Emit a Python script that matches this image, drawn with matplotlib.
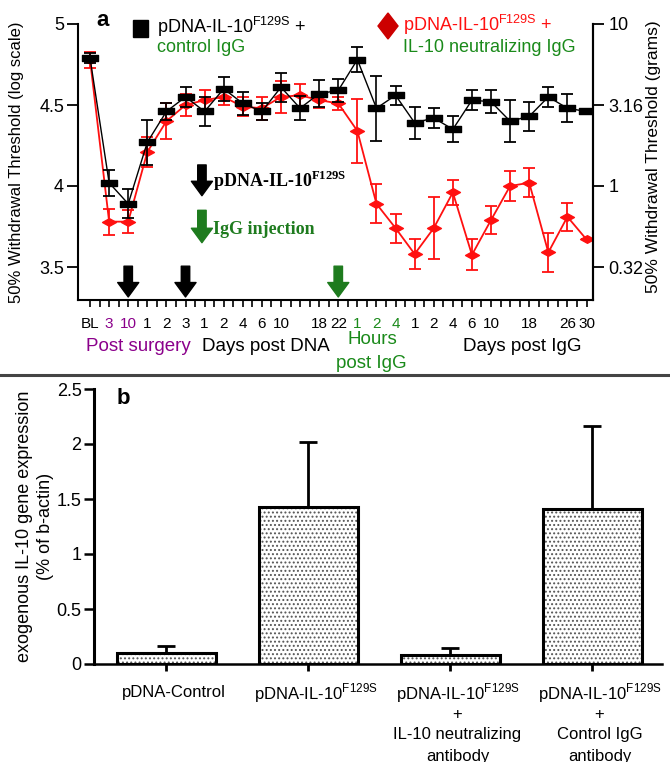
import numpy as np
import matplotlib
matplotlib.use('Agg')
import matplotlib.pyplot as plt
from matplotlib.path import Path
from matplotlib.markers import MarkerStyle
from matplotlib.patches import Rectangle, Polygon
from matplotlib.lines import Line2D
import matplotlib.font_manager as fm
import matplotlib.transforms as mtransforms

plt.rcParams['font.family'] = ['Liberation Sans', 'DejaVu Sans']
plt.rcParams['mathtext.fontset'] = 'custom'
plt.rcParams['mathtext.rm'] = 'Liberation Sans'
plt.rcParams['mathtext.bf'] = 'Liberation Serif:bold'
plt.rcParams['hatch.linewidth'] = 0.9


def has_font(name):
    try:
        fm.findfont(fm.FontProperties(family=name), fallback_to_default=False)
        return True
    except Exception:
        return False


NARROW = 'Liberation Sans Narrow' if has_font('Liberation Sans Narrow') else None

# ---------------- data: panel a ----------------
time_labels = ['BL', '3', '10', '1', '2', '3', '1', '2', '4', '6', '10', '', '18', '22',
               '1', '2', '4', '1', '2', '4', '6', '10', '', '18', '', '26', '30']
label_colors = (['black'] + ['#8b008b'] * 2 + ['black'] * 11 + ['#1a8a1a'] * 3 + ['black'] * 10)

control_igg_mean = [4.79, 4.02, 3.89, 4.27, 4.46, 4.55, 4.46, 4.60, 4.51, 4.46, 4.61, 4.48,
                    4.57, 4.59, 4.78, 4.48, 4.56, 4.39, 4.42, 4.35, 4.53, 4.52, 4.40, 4.43,
                    4.55, 4.48, 4.46]
control_igg_sem = [0.03, 0.08, 0.09, 0.14, 0.05, 0.06, 0.09, 0.075, 0.07, 0.05, 0.09, 0.075,
                   0.085, 0.07, 0.075, 0.20, 0.06, 0.10, 0.06, 0.08, 0.06, 0.07, 0.13, 0.09,
                   0.06, 0.085, 0.0]

neutral_igg_mean = [4.78, 3.78, 3.78, 4.21, 4.40, 4.50, 4.53, 4.55, 4.49, 4.48, 4.55, 4.56,
                    4.53, 4.51, 4.34, 3.89, 3.74, 3.58, 3.74, 3.96, 3.575, 3.79, 4.00, 4.02,
                    3.59, 3.81, 3.67]
neutral_igg_sem = [0.05, 0.08, 0.07, 0.09, 0.11, 0.07, 0.06, 0.05, 0.06, 0.07, 0.10, 0.07,
                   0.05, 0.04, 0.20, 0.12, 0.09, 0.09, 0.19, 0.08, 0.095, 0.085, 0.09, 0.09,
                   0.12, 0.085, 0.0]

dna_injection_idx = [2, 5]
igg_injection_idx = [13]

left_ticks = [3.5, 4.0, 4.5, 5.0]
left_ticklabels = ['3.5', '4', '4.5', '5']
right_ticklabels = ['0.32', '1', '3.16', '10']

# ---------------- data: panel b ----------------
bar_groups = ['pDNA-Control', 'pDNA-IL-10 F129S', 'pDNA-IL-10 F129S + IL-10 neutralizing antibody',
              'pDNA-IL-10 F129S + Control IgG antibody']
bar_values = [0.10, 1.43, 0.085, 1.41]
bar_sem = [0.063, 0.59, 0.06, 0.75]
bar_label_lines = [
    ['pDNA-Control'],
    [r'pDNA-IL-10$^{\rm F129S}$'],
    [r'pDNA-IL-10$^{\rm F129S}$', '+', 'IL-10 neutralizing', 'antibody'],
    [r'pDNA-IL-10$^{\rm F129S}$', '+', 'Control IgG', 'antibody'],
]

# ---------------- figure ----------------
W, H = 670, 762
fig = plt.figure(figsize=(W / 100, H / 100), dpi=100)


def fx(x):
    return x / W


def fy(y):
    return 1 - y / H


GREEN = '#1a8a1a'
DGREEN = '#1e7b1e'
PURPLE = '#8b008b'
RED = '#ff1010'

# ---- panel a ----
ax = fig.add_axes([fx(78), fy(300), fx(593) - fx(78), fy(24) - fy(300)])
n = len(time_labels)
x = np.arange(n)
ax.set_xlim(-0.63, 26.34)
ax.set_ylim(5 - 276 / 162, 5.0)

rect_marker = MarkerStyle(Path([(-1, -0.42), (1, -0.42), (1, 0.42), (-1, 0.42), (-1, -0.42)],
                               [Path.MOVETO, Path.LINETO, Path.LINETO, Path.LINETO, Path.CLOSEPOLY]))
diam_marker = MarkerStyle(Path([(-1, 0), (0, 0.55), (1, 0), (0, -0.55), (-1, 0)],
                               [Path.MOVETO, Path.LINETO, Path.LINETO, Path.LINETO, Path.CLOSEPOLY]))

ax.errorbar(x, neutral_igg_mean, yerr=neutral_igg_sem, color=RED, lw=1.3,
            marker=diam_marker, ms=10, mfc=RED, mec=RED, ecolor=RED, elinewidth=1.3,
            capsize=4.2, capthick=1.3, zorder=3)
ax.errorbar(x, control_igg_mean, yerr=control_igg_sem, color='black', lw=1.0,
            marker=rect_marker, ms=11.5, mfc='black', mec='black', ecolor='black', elinewidth=1.2,
            capsize=4.2, capthick=1.3, zorder=4)

for s in ['left', 'right', 'bottom']:
    ax.spines[s].set_linewidth(1.5)
ax.spines['top'].set_visible(False)

ax.set_yticks(left_ticks)
ax.set_yticklabels(left_ticklabels)
ax.tick_params(axis='y', length=8, width=1.3, labelsize=13, pad=2)
ax.set_xticks(x)
ax.set_xticks(x[:-1] + 0.5, minor=True)
if NARROW:
    ax.set_xticklabels(time_labels, fontsize=13, family=NARROW)
else:
    ax.set_xticklabels(time_labels, fontsize=11)
for t, c in zip(ax.get_xticklabels(), label_colors):
    t.set_color(c)
ax.tick_params(axis='x', which='both', length=5, width=1.2, pad=7)
ax.set_ylabel('50% Withdrawal Threshold (log scale)', fontsize=12)
ax.yaxis.set_label_coords(-0.105, 0.5)

ax2 = ax.twinx()
ax2.set_ylim(ax.get_ylim())
ax2.set_yticks(left_ticks)
ax2.set_yticklabels(right_ticklabels)
ax2.tick_params(axis='y', length=8, width=1.3, labelsize=13, pad=3)
for s in ['left', 'top', 'bottom']:
    ax2.spines[s].set_visible(False)
ax2.spines['right'].set_linewidth(1.5)
ax2.set_ylabel('50% Withdrawal Threshold (grams)', fontsize=12.5, rotation=90)
ax2.yaxis.set_label_coords(1.103, 0.52)

arrow_kw = dict(arrowstyle='simple,head_length=0.65,head_width=0.95,tail_width=0.38',
                mutation_scale=16, shrinkA=0, shrinkB=0)
for i in dna_injection_idx:
    ax.annotate('', xy=(i, 3.315), xytext=(i, 3.505),
                arrowprops=dict(fc='black', ec='black', **arrow_kw))
for i in igg_injection_idx:
    ax.annotate('', xy=(i, 3.315), xytext=(i, 3.505),
                arrowprops=dict(fc=DGREEN, ec=DGREEN, **arrow_kw))

# in-plot arrows + notes
ax.annotate('', xy=(5.86, 3.94), xytext=(5.86, 4.13),
            arrowprops=dict(fc='black', ec='black', **arrow_kw))
ax.annotate('', xy=(5.86, 3.65), xytext=(5.86, 3.85),
            arrowprops=dict(fc=DGREEN, ec=DGREEN, **arrow_kw))
fig.text(fx(213), fy(181), r'pDNA-IL-10$^{\mathbf{F129S}}$', family='Liberation Serif',
         weight='bold', fontsize=13, va='center', ha='left')
fig.text(fx(213), fy(229), 'IgG injection', family='Liberation Serif', weight='bold',
         fontsize=13, va='center', ha='left', color=DGREEN)

# legend-like labels
fig.text(fx(103), fy(21), 'a', fontsize=16, weight='bold', ha='center', va='center')
fig.add_artist(Rectangle((fx(133), fy(37)), fx(15), 17 / H, transform=fig.transFigure,
                         color='black'))
fig.text(fx(157), fy(27), r'pDNA-IL-10$^{\rm F129S}$ +', fontsize=13, va='center')
fig.text(fx(157), fy(48), 'control IgG', fontsize=13, va='center', color=GREEN)
fig.add_artist(Polygon([(fx(378), fy(26)), (fx(388), fy(13)), (fx(398), fy(26)), (fx(388), fy(39))],
                       closed=True, transform=fig.transFigure, color='#cc0000'))
fig.text(fx(403), fy(25), r'pDNA-IL-10$^{\rm F129S}$ +', fontsize=13, va='center', color=RED)
fig.text(fx(403), fy(47), 'IL-10 neutralizing IgG', fontsize=13, va='center', color=GREEN)

# group labels under the time axis
fig.text(fx(138), fy(347), 'Post surgery', fontsize=13.5, ha='center', va='center', color=PURPLE)
fig.text(fx(266), fy(347), 'Days post DNA', fontsize=13.5, ha='center', va='center')
fig.text(fx(372), fy(339), 'Hours', fontsize=13.5, ha='center', va='center', color=GREEN)
fig.text(fx(371), fy(364), 'post IgG', fontsize=13.5, ha='center', va='center', color=GREEN)
fig.text(fx(522), fy(347), 'Days post IgG', fontsize=13.5, ha='center', va='center')

# divider
fig.add_artist(Line2D([0, 1], [fy(375), fy(375)], transform=fig.transFigure, color='#444444', lw=2.2))

# ---- panel b ----
bx = fig.add_axes([fx(94), fy(664), fx(662) - fx(94), fy(389) - fy(664)])
xb = np.arange(len(bar_values))
bx.set_xlim(-0.51, 3.49)
bx.set_ylim(0, 2.5)
bx.bar(xb, bar_values, width=0.7, color='white', edgecolor='#555555', hatch='....', linewidth=0,
       zorder=2)
bx.bar(xb, bar_values, width=0.7, fill=False, edgecolor='black', linewidth=2.2, zorder=3)
bx.errorbar(xb, bar_values, yerr=[np.zeros(len(bar_sem)), bar_sem], fmt='none', ecolor='black',
            elinewidth=2, capsize=6.5, capthick=2, zorder=4)
for s in ['top', 'right']:
    bx.spines[s].set_visible(False)
bx.spines['left'].set_linewidth(2.2)
bx.spines['bottom'].set_linewidth(1.8)
bx.set_yticks([0, 0.5, 1, 1.5, 2, 2.5])
bx.set_yticklabels(['0', '0.5', '1', '1.5', '2', '2.5'])
bx.tick_params(axis='y', length=7, width=1.8, labelsize=13, pad=2)
bx.set_xticks(xb)
bx.set_xticklabels([''] * len(xb))
bx.tick_params(axis='x', length=5, width=2)
bx.set_ylabel('exogenous IL-10 gene expression\n(% of b-actin)', fontsize=13, linespacing=1.3)
bx.yaxis.set_label_coords(-0.07, 0.5)
fig.text(fx(123), fy(398), 'b', fontsize=16, weight='bold', ha='center', va='center')

trans = mtransforms.blended_transform_factory(bx.transData, fig.transFigure)
for i, lines in enumerate(bar_label_lines):
    for k, line in enumerate(lines):
        bx.text(i + 0.05, fy(693 + 21 * k), line, transform=trans, ha='center', va='center',
                fontsize=12)

fig.savefig('out.png', dpi=100)
